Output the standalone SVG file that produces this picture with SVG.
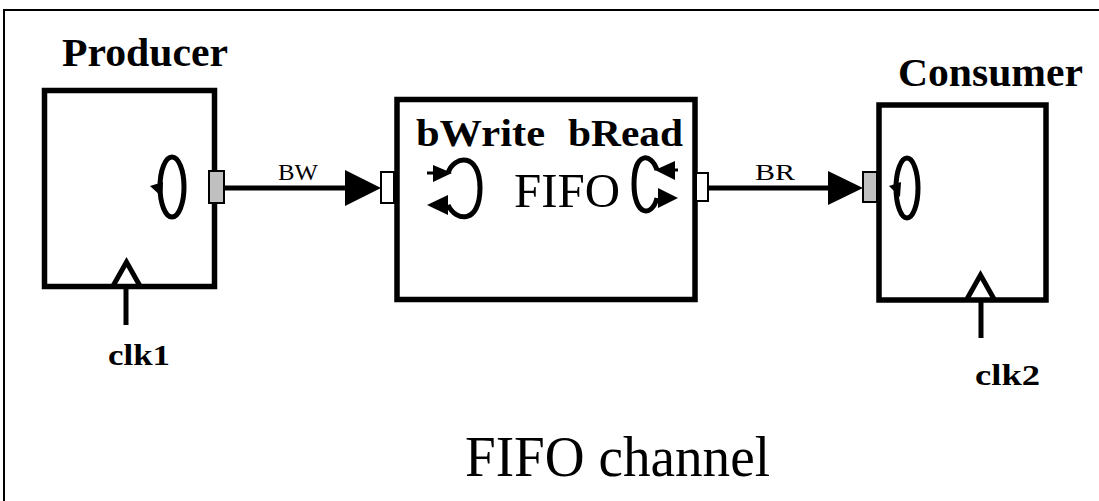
<svg xmlns="http://www.w3.org/2000/svg" width="1099" height="501" viewBox="0 0 1099 501">
<style>
.box{fill:none;stroke:#000;stroke-width:5.5}
.loop{fill:none;stroke:#000;stroke-width:5}
.wire{fill:none;stroke:#000;stroke-width:5}
.clk{fill:none;stroke:#000;stroke-width:5;stroke-linejoin:miter}
.port{stroke:#000;stroke-width:2}
.b{font-family:"Liberation Serif","Times New Roman",serif;font-weight:bold;fill:#000}
.r{font-family:"Liberation Serif","Times New Roman",serif;fill:#000}
</style>
<rect width="1099" height="501" fill="#fff"/>
<path d="M4,501 L4,10 L1099,10" fill="none" stroke="#000" stroke-width="2"/>
<g id="producer">
<rect class="box" x="44.5" y="90.5" width="170" height="196"/>
<text class="b" x="62" y="66" font-size="40" textLength="166" lengthAdjust="spacingAndGlyphs">Producer</text>
<ellipse class="loop" cx="172" cy="187" rx="12" ry="30"/>
<polygon points="150,186 163,182 162,197" fill="#000"/>
<rect class="port" x="209" y="171" width="15" height="32" fill="#c0c0c0"/>
</g>
<g id="producer-clk">
<polyline class="clk" points="113,286 126.5,262 140,286"/>
<line class="wire" x1="126" y1="286" x2="126" y2="325"/>
<text class="b" x="108" y="365" font-size="30" textLength="62" lengthAdjust="spacingAndGlyphs">clk1</text>
</g>
<g id="fifo">
<rect class="box" x="397" y="99.5" width="298" height="200"/>
<text class="b" x="416" y="146" font-size="38" textLength="129" lengthAdjust="spacingAndGlyphs">bWrite</text>
<text class="b" x="568" y="146" font-size="38" textLength="115" lengthAdjust="spacingAndGlyphs">bRead</text>
<text class="r" x="514" y="207" font-size="49" textLength="106" lengthAdjust="spacingAndGlyphs">FIFO</text>
<path class="loop" d="M448,173 C454,155 480,152 480,188 C480,224 456,222 448,205"/>
<line x1="427" y1="173" x2="436" y2="173" stroke="#000" stroke-width="3"/>
<polygon points="433,165 452,173 433,182" fill="#000"/>
<polygon points="448,195 427,205 448,215" fill="#000"/>
<path class="loop" d="M657,170 C651,152 634,152 634,184 C634,216 652,218 657,198"/>
<line x1="668" y1="170" x2="678" y2="170" stroke="#000" stroke-width="3"/>
<polygon points="675,161 655,170 675,180" fill="#000"/>
<polygon points="658,188 678,198 658,208" fill="#000"/>
<rect class="port" x="381" y="172" width="13" height="31" fill="#fff"/>
<rect class="port" x="696" y="173" width="12" height="28" fill="#fff"/>
</g>
<g id="consumer">
<rect class="box" x="879" y="105" width="167" height="195"/>
<text class="b" x="898" y="86" font-size="40" textLength="185" lengthAdjust="spacingAndGlyphs">Consumer</text>
<ellipse class="loop" cx="907" cy="188" rx="11" ry="30"/>
<polygon points="889,186 901,182 900,197" fill="#000"/>
<rect class="port" x="863" y="172" width="14" height="30" fill="#c0c0c0"/>
</g>
<g id="consumer-clk">
<polyline class="clk" points="967,299 980.5,275 994,299"/>
<line class="wire" x1="981" y1="300" x2="981" y2="338"/>
<text class="b" x="975" y="385" font-size="30" textLength="65" lengthAdjust="spacingAndGlyphs">clk2</text>
</g>
<g id="connectors">
<line class="wire" x1="224" y1="188" x2="350" y2="188"/>
<polygon points="345,170 381,188 345,206" fill="#000"/>
<text class="r" x="278" y="180" font-size="23" textLength="40" lengthAdjust="spacingAndGlyphs">BW</text>
<line class="wire" x1="708" y1="188" x2="832" y2="188"/>
<polygon points="828,171 863,188 828,205" fill="#000"/>
<text class="r" x="755" y="180" font-size="23" textLength="40" lengthAdjust="spacingAndGlyphs">BR</text>
</g>
<text class="r" x="465" y="476" font-size="58" textLength="305" lengthAdjust="spacingAndGlyphs">FIFO channel</text>
</svg>
